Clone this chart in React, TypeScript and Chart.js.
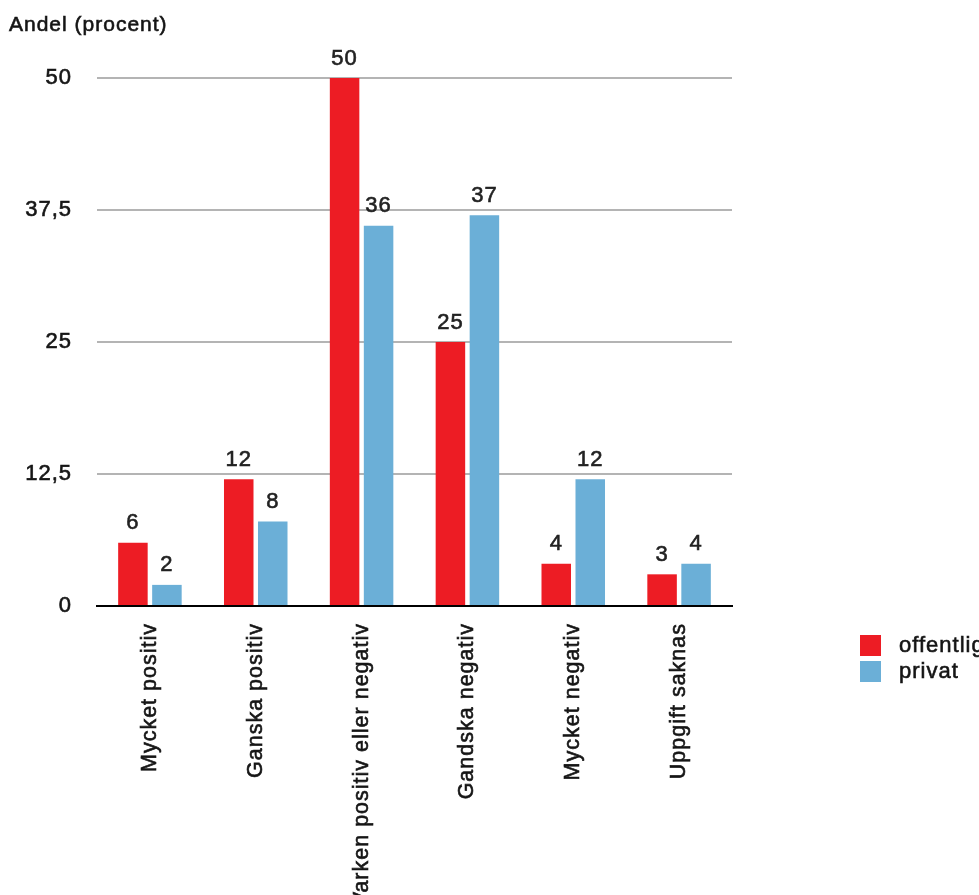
import React, { useEffect, useRef } from 'react';
import { Chart, registerables } from 'chart.js';

Chart.register(...registerables);

const categories = [
  'Mycket positiv',
  'Ganska positiv',
  'Varken positiv eller negativ',
  'Gandska negativ',
  'Mycket negativ',
  'Uppgift saknas',
];
const offentlig = [6, 12, 50, 25, 4, 3];
const privat = [2, 8, 36, 37, 12, 4];
const seriesNames = ['offentlig', 'privat'];
const seriesColors = ['#ED1C24', '#6BAFD7'];
const yTicks = [0, 12.5, 25, 37.5, 50];
const axisTitle = 'Andel (procent)';

const FONT = "'Liberation Sans', Arial, Helvetica, sans-serif";
const TEXT = '#151515';
const STROKE = 0.6;

function boldText(ctx: CanvasRenderingContext2D, s: string, x: number, y: number, color: string) {
  ctx.fillStyle = color;
  ctx.strokeStyle = color;
  ctx.lineWidth = STROKE;
  ctx.fillText(s, x, y);
  ctx.strokeText(s, x, y);
}

const extrasPlugin = {
  id: 'extras',
  beforeDraw(chart: any) {
    try {
      chart.ctx.letterSpacing = '1px';
    } catch (e) {}
  },
  afterDraw(chart: any) {
    const ctx = chart.ctx;
    ctx.save();
    // axis title
    ctx.font = `21px ${FONT}`;
    ctx.textAlign = 'left';
    ctx.textBaseline = 'alphabetic';
    boldText(ctx, axisTitle, 9, 31, TEXT);

    // data labels
    ctx.font = `22px ${FONT}`;
    ctx.textAlign = 'center';
    chart.data.datasets.forEach((ds: any, di: number) => {
      const meta = chart.getDatasetMeta(di);
      meta.data.forEach((bar: any, i: number) => {
        boldText(ctx, String(ds.data[i]), bar.x, bar.y - 13.5, '#222222');
      });
    });

    // legend
    const lx = 860;
    const ly = [635, 661];
    ctx.textAlign = 'left';
    ctx.font = `22px ${FONT}`;
    seriesNames.forEach((name, i) => {
      ctx.fillStyle = seriesColors[i];
      ctx.fillRect(lx, ly[i], 21, 21);
      boldText(ctx, name, 899, ly[i] + 17, TEXT);
    });
    ctx.restore();
  },
};

export default function App() {
  const ref = useRef<HTMLCanvasElement | null>(null);

  useEffect(() => {
    document.body.style.margin = '0';
    const canvas = ref.current;
    if (!canvas) return;
    Chart.defaults.font.family = FONT;
    const chart = new Chart(canvas, {
      type: 'bar',
      data: {
        labels: categories,
        datasets: [
          {
            label: seriesNames[0],
            data: offentlig,
            backgroundColor: seriesColors[0],
            categoryPercentage: 0.6425,
            barPercentage: 0.868,
          },
          {
            label: seriesNames[1],
            data: privat,
            backgroundColor: seriesColors[1],
            categoryPercentage: 0.6425,
            barPercentage: 0.868,
          },
        ],
      },
      options: {
        responsive: false,
        animation: false,
        devicePixelRatio: 1,
        layout: { padding: { top: 78, right: 247, left: 0, bottom: 0 } },
        plugins: {
          legend: { display: false },
          tooltip: { enabled: false },
          title: { display: false },
        },
        scales: {
          x: {
            afterFit: (s: any) => {
              s.height = 289;
            },
            grid: { display: false, drawTicks: false },
            border: { display: true, color: '#000000', width: 2 },
            ticks: {
              minRotation: 90,
              maxRotation: 90,
              autoSkip: false,
              padding: 17,
              color: TEXT,
              textStrokeColor: TEXT,
              textStrokeWidth: STROKE,
              font: { size: 21.5, family: FONT },
            },
          },
          y: {
            min: 0,
            max: 50,
            afterFit: (s: any) => {
              s.width = 97;
            },
            afterBuildTicks: (s: any) => {
              s.ticks = yTicks.map((v) => ({ value: v }));
            },
            grid: {
              drawTicks: false,
              lineWidth: 2,
              color: (c: any) => (c.tick && c.tick.value === 0 ? 'rgba(0,0,0,0)' : '#b4b4b4'),
            },
            border: { display: false },
            ticks: {
              padding: 25,
              color: TEXT,
              textStrokeColor: TEXT,
              textStrokeWidth: STROKE,
              font: { size: 22, family: FONT },
              callback: (v: any) => String(v).replace('.', ','),
            },
          },
        },
      },
      plugins: [extrasPlugin],
    });
    return () => chart.destroy();
  }, []);

  return (
    <div style={{ width: 979, height: 895, overflow: 'hidden' }}>
      <canvas ref={ref} width={979} height={895} style={{ display: 'block', width: 979, height: 895 }} />
    </div>
  );
}
